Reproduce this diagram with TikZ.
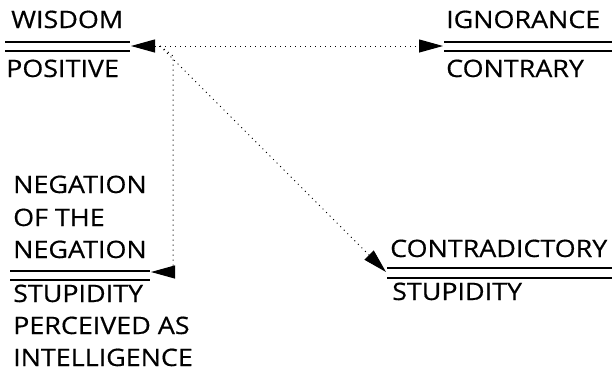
\documentclass[tikz,border=0pt]{standalone}
\usepackage{fontspec}
\setmainfont{Open Sans}[FakeStretch=1.12, FakeBold=0.5]
\usetikzlibrary{arrows.meta}

\begin{document}
\begin{tikzpicture}[x=1pt,y=-1pt,
    term/.style={anchor=base west, inner sep=0pt, font=\fontsize{24}{32}\selectfont},
    bar/.style={line width=1.2pt},
    dotline/.style={dash pattern=on 1pt off 4pt, line width=1pt},
    head/.style={-{Triangle[length=24pt,width=13pt]}}]
    \useasboundingbox (0,0) rectangle (614,378);
    % top left pair
    \node[term] (wisdom) at (11,28) {WISDOM};
    \node[term] (positive) at (6,77) {POSITIVE};
    \draw[bar] (5,42) -- (130,42);
    \draw[bar] (5,51) -- (130,51);
    % top right pair
    \node[term] (ignorance) at (446,28) {IGNORANCE};
    \node[term] (contrary) at (446,77) {CONTRARY};
    \draw[bar] (444,42) -- (612,42);
    \draw[bar] (444,51) -- (612,51);
    % bottom left
    \foreach \i/\txt/\y in {1/NEGATION/193, 2/OF THE/226, 3/NEGATION/258} {
        \node[term] (neg\i) at (13,\y) {\txt};
    }
    \draw[bar] (10,271) -- (150,271);
    \draw[bar] (10,280) -- (150,280);
    \foreach \i/\txt/\y in {1/STUPIDITY/302, 2/PERCEIVED AS/334, 3/INTELLIGENCE/366} {
        \node[term] (stup\i) at (13,\y) {\txt};
    }
    % bottom right
    \node[term] (contradictory) at (390,257) {CONTRADICTORY};
    \node[term] (stupidity) at (392,300) {STUPIDITY};
    \draw[bar] (387,268) -- (612,268);
    \draw[bar] (387,278) -- (612,278);
    % arrows
    \coordinate (hub) at (160,46);
    \coordinate (wisdomtip) at (131,46);
    \coordinate (ignorancetip) at (443,46);
    \coordinate (negtip) at (151,272);
    \coordinate (contratip) at (386,272);
    \draw[dotline, head] (hub) -- (wisdomtip);
    \draw[dotline, head] (hub) -- (ignorancetip);
    \draw[dotline, head] (hub) -- ++(13,10) |- (negtip);
    \draw[dotline, head] (hub) -- (contratip);
\end{tikzpicture}
\end{document}
